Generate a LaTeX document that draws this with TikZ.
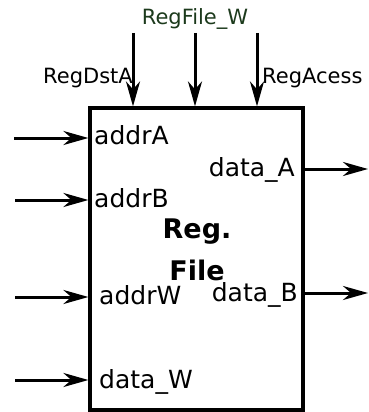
\documentclass[tikz,border=0pt]{standalone}
\usepackage{fontspec}
\setmainfont{DejaVu Sans}
\usetikzlibrary{arrows.meta}
\definecolor{sigGreen}{RGB}{28,58,28}
\tikzset{
  wire/.style={line width=3pt,-{Stealth[length=25pt,width=14pt,inset=8pt]}},
  port/.style={inner sep=0pt,font=\fontsize{25}{25}\selectfont},
  ctrl/.style={inner sep=0pt,font=\fontsize{21}{21}\selectfont},
  block/.style={draw,line width=3.2pt,inner sep=0pt}
}
\begin{document}
\begin{tikzpicture}[x=1pt,y=-1pt]
\useasboundingbox (0,0) rectangle (368,412);
% register file block
\node[block,minimum width=213pt,minimum height=302pt] (rf) at (196.5,259) {};
\node[inner sep=0pt,font=\bfseries\fontsize{27}{27}\selectfont,anchor=base] (t1) at (197,238) {Reg.};
\node[inner sep=0pt,font=\bfseries\fontsize{27}{27}\selectfont,anchor=base] (t2) at (197,280) {File};
% control inputs from above
\coordinate (c1) at (133,33);
\coordinate (c2) at (195,33);
\coordinate (c3) at (257,33);
\draw[wire] (c1) -- (c1 |- rf.north);
\draw[wire] (c2) -- (c2 |- rf.north);
\draw[wire] (c3) -- (c3 |- rf.north);
\node[ctrl,anchor=base,text=sigGreen] (lw) at (195,25) {RegFile\_W};
\node[ctrl,anchor=base west] (ld) at (43,83) {RegDstA};
\node[ctrl,anchor=base west] (la) at (262,83) {RegAcess};
% data / address inputs on the left
\coordinate (i1) at (14,138);
\coordinate (i2) at (15,200);
\coordinate (i3) at (15,297);
\coordinate (i4) at (15,380);
\draw[wire] (i1) -- (i1 -| rf.west);
\draw[wire] (i2) -- (i2 -| rf.west);
\draw[wire] (i3) -- (i3 -| rf.west);
\draw[wire] (i4) -- (i4 -| rf.west);
\node[port,anchor=base west] (pa) at (94,144) {addrA};
\node[port,anchor=base west] (pb) at (94,207) {addrB};
\node[port,anchor=base west] (pw) at (99,304) {addrW};
\node[port,anchor=base west] (pd) at (99,388) {data\_W};
% outputs on the right
\coordinate (o1) at (368,169);
\coordinate (o2) at (368,293);
\draw[wire] (o1 -| rf.east) -- (o1);
\draw[wire] (o2 -| rf.east) -- (o2);
\node[port,anchor=base east] (qa) at (295,176) {data\_A};
\node[port,anchor=base east] (qb) at (298,301) {data\_B};
\end{tikzpicture}
\end{document}
